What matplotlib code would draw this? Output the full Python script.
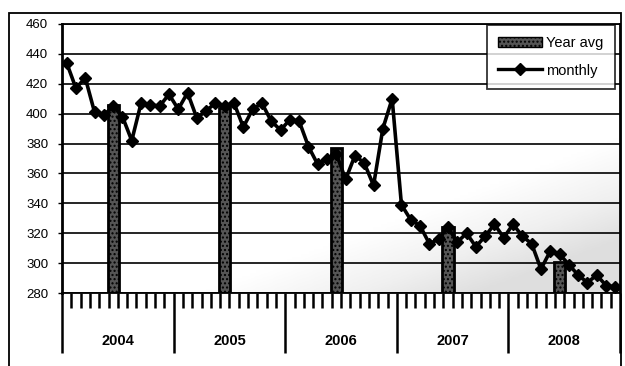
import numpy as np
from matplotlib import pyplot as plt
from matplotlib.patches import Rectangle
from matplotlib.lines import Line2D

plt.rcParams['font.family'] = ['Liberation Sans', 'DejaVu Sans']
plt.rcParams['hatch.color'] = '#d0d0d0'

years = ["2004", "2005", "2006", "2007", "2008"]

# monthly values (Jan..Dec for each year)
monthly = [434, 417, 424, 401, 399, 405, 398, 382, 407, 406, 405, 413,
           403, 414, 397, 402, 407, 405, 407, 391, 403, 407, 395, 389,
           396, 395, 378, 366, 370, 373, 356, 372, 367, 352, 390, 410,
           339, 329, 325, 313, 316, 324, 314, 320, 311, 318, 326, 317,
           326, 318, 313, 296, 308, 306, 299, 292, 287, 292, 285, 284]

year_avg = [406, 404, 377, 324, 301]

yticks = [280, 300, 320, 340, 360, 380, 400, 420, 440, 460]

fig = plt.figure(figsize=(6.25, 3.66), dpi=100)
ax = fig.add_axes([62 / 625, 1 - 293 / 366, 558 / 625, 269 / 366])

n = len(monthly)
x = np.arange(n)

# faint stipple shading toward the lower right
gx, gy = np.meshgrid(np.linspace(0, 1, 200), np.linspace(0, 1, 100))
shade = np.clip(2.0 * gx - 2.6 * gy - 0.5, 0, 1)
ax.imshow(shade, extent=[-0.5, n - 0.5, 280, 460], origin='lower', aspect='auto',
          cmap='Greys', vmin=0, vmax=4.5, zorder=0, interpolation='bilinear')

for v in yticks:
    ax.axhline(v, color='black', lw=1.2, zorder=1)

bar_pos = [i * 12 + 5 for i in range(len(years))]
ax.bar(bar_pos, [v - 280 for v in year_avg], bottom=280, width=1.2,
       color='#555555', edgecolor='black', hatch='....', lw=2, zorder=2)

ax.plot(x, monthly, color='black', lw=2.6, marker='D', ms=6,
        markerfacecolor='black', markeredgecolor='black', zorder=3)

ax.set_xlim(-0.5, n - 0.5)
ax.set_ylim(280, 460)
ax.set_yticks(yticks)
ax.tick_params(axis='y', length=3, width=1, pad=7, labelsize=9.5)

ax.set_xticks([i * 12 - 0.5 for i in range(len(years) + 1)])
ax.set_xticklabels([])
ax.tick_params(axis='x', which='major', length=43, width=1.8, direction='out')
ax.set_xticks([m - 0.5 for m in range(1, n) if m % 12 != 0], minor=True)
ax.tick_params(axis='x', which='minor', length=11, width=1.8, direction='out')

for i, y in enumerate(years):
    ax.text(i * 12 + 5.5, -0.18, y, transform=ax.get_xaxis_transform(),
            ha='center', va='center', fontsize=10.5, fontweight='bold')

for s in ax.spines.values():
    s.set_linewidth(1.3)
ax.spines['left'].set_linewidth(2)

handles = [Rectangle((0, 0), 1, 1, facecolor='#555555', edgecolor='black', hatch='....', lw=1),
           Line2D([0], [0], color='black', lw=2.4, marker='D', ms=6)]
leg = ax.legend(handles, ['Year avg', 'monthly'], loc='upper right',
                bbox_to_anchor=(0.997, 1.008), fontsize=10.5, frameon=True,
                fancybox=False, edgecolor='black', handlelength=3.0,
                borderpad=0.8, labelspacing=0.9, handletextpad=0.3,
                borderaxespad=0.2)
leg.get_frame().set_linewidth(1.3)
leg.set_zorder(5)

# outer frame of the figure
fig.patches.append(Rectangle((9 / 625, -0.05), 612 / 625, 1.05 - 13 / 366,
                             transform=fig.transFigure, fill=False,
                             edgecolor='black', lw=1.3))

fig.savefig("out.png", dpi=100)
